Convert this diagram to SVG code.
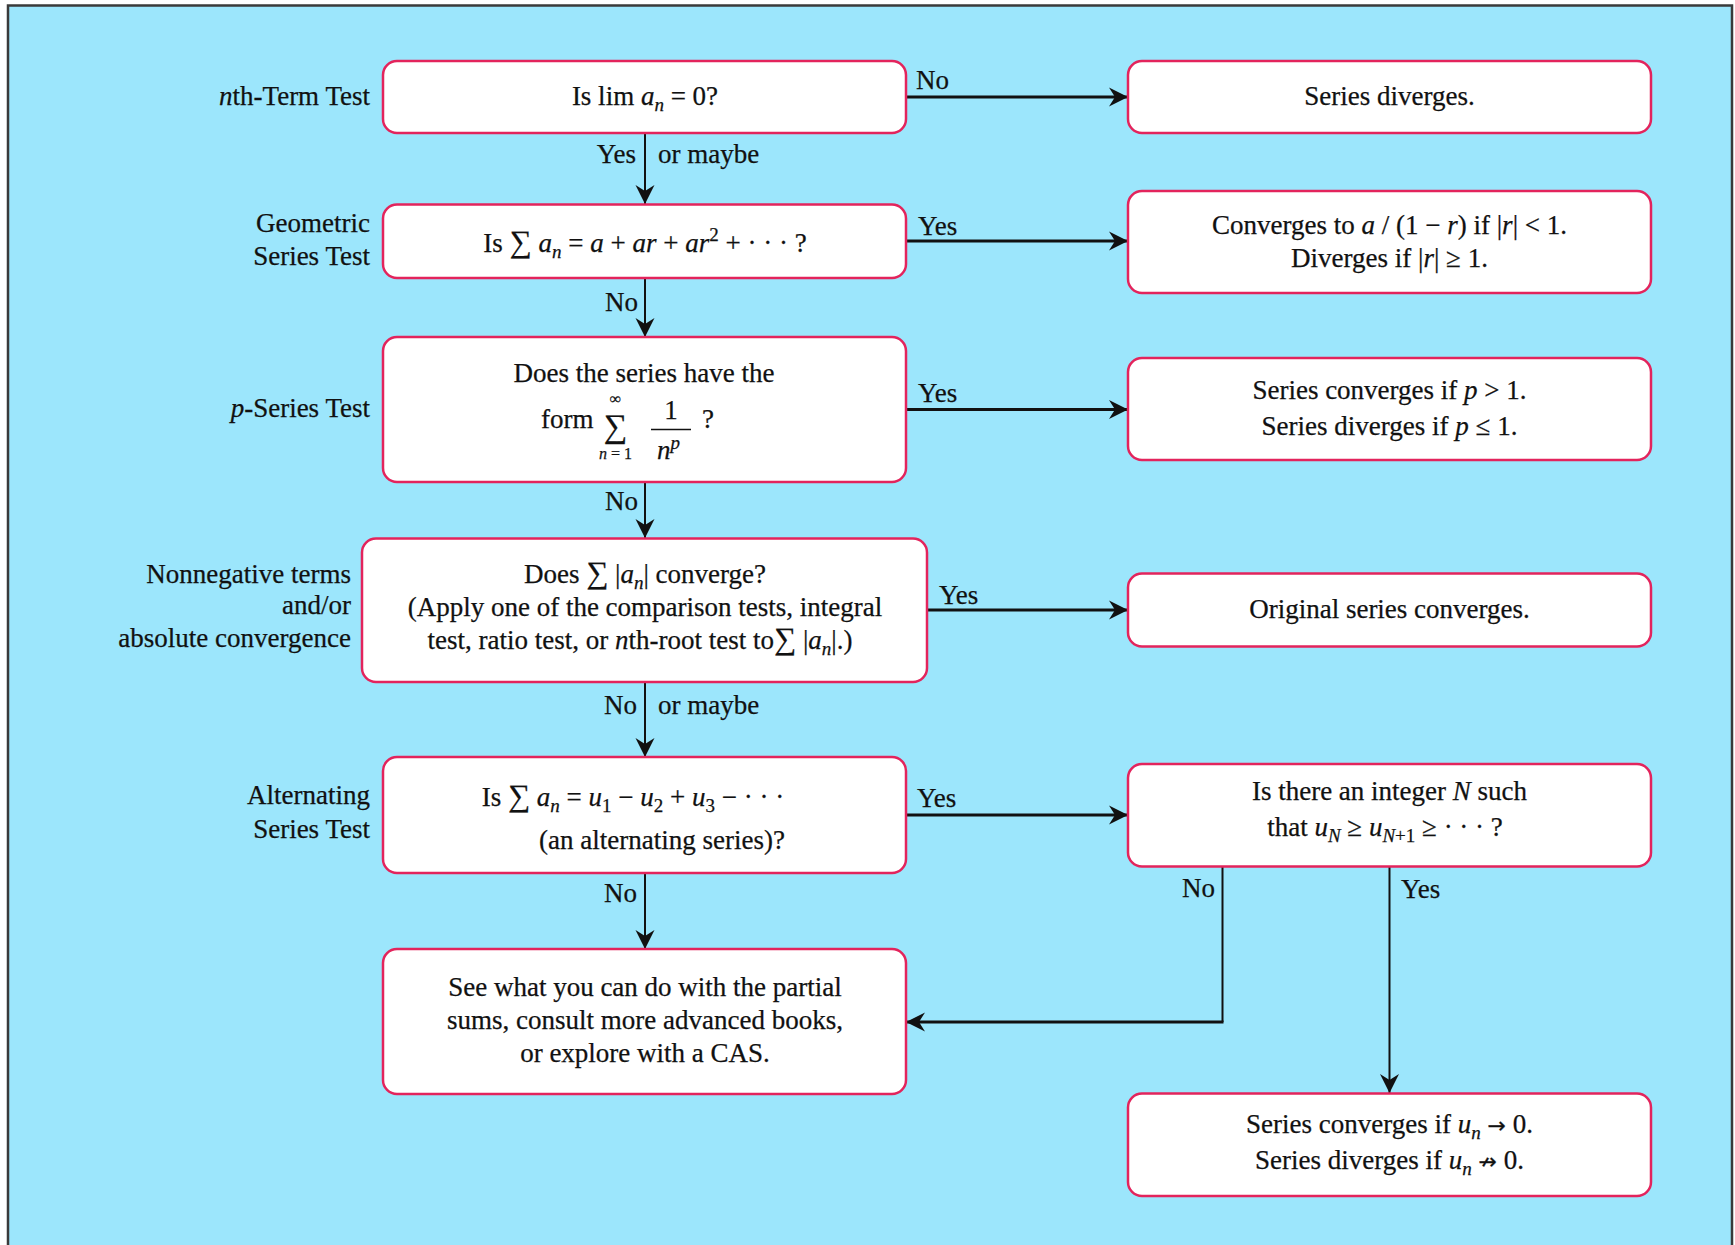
<svg xmlns="http://www.w3.org/2000/svg" width="1735" height="1245" viewBox="0 0 1735 1245">
<defs>
<marker id="ah" markerUnits="userSpaceOnUse" markerWidth="22" markerHeight="20" viewBox="-20 -10 22 20" refX="0" refY="0" orient="auto">
<path d="M0,0 L-19,-9.5 L-13,0 L-19,9.5 Z" fill="#111"/>
</marker>
<style>
.box{fill:#fff;stroke:#e3245c;stroke-width:2.5}
.t{font-family:"Liberation Serif","Times New Roman",serif;font-size:27px;fill:#111;stroke:#111;stroke-width:0.25}
.c{text-anchor:middle}
.r{text-anchor:end}
.i{font-style:italic}
.s{font-size:19px}
.sg{font-size:31px}
.ar{font-family:"DejaVu Sans",sans-serif;font-size:22px}
.ln{fill:none;stroke:#111;stroke-width:2}
.hl{stroke-width:3}
</style>
</defs>
<rect x="0" y="0" width="1735" height="1245" fill="#fff"/>
<rect id="frame" x="8" y="5.5" width="1724" height="1260" fill="#9ce6fc" stroke="#3a3a3a" stroke-width="2.5"/>

<g id="connectors">
<path class="ln" d="M645,133 V204" marker-end="url(#ah)"/>
<path class="ln" d="M645,278 V337" marker-end="url(#ah)"/>
<path class="ln" d="M645,482 V538" marker-end="url(#ah)"/>
<path class="ln" d="M645,682 V757" marker-end="url(#ah)"/>
<path class="ln" d="M645,873 V949" marker-end="url(#ah)"/>
<path class="ln hl" d="M906,97 H1128" marker-end="url(#ah)"/>
<path class="ln hl" d="M906,241 H1128" marker-end="url(#ah)"/>
<path class="ln hl" d="M906,409.5 H1128" marker-end="url(#ah)"/>
<path class="ln hl" d="M927,610 H1128" marker-end="url(#ah)"/>
<path class="ln hl" d="M906,815 H1128" marker-end="url(#ah)"/>
<path class="ln" d="M1222.5,867 V1022"/>
<path class="ln hl" d="M1223.5,1022 H906" marker-end="url(#ah)"/>
<path class="ln" d="M1389.5,867 V1093" marker-end="url(#ah)"/>
<g class="t">
<text x="916" y="89">No</text>
<text class="r" x="636" y="163">Yes</text>
<text x="658" y="163">or maybe</text>
<text x="918" y="235">Yes</text>
<text class="r" x="638" y="311">No</text>
<text x="918" y="402">Yes</text>
<text class="r" x="638" y="510">No</text>
<text x="939" y="604">Yes</text>
<text class="r" x="637" y="714">No</text>
<text x="658" y="714">or maybe</text>
<text x="917" y="807">Yes</text>
<text class="r" x="637" y="902">No</text>
<text class="r" x="1215" y="897">No</text>
<text x="1401" y="898">Yes</text>
</g>
</g>

<g id="labels" class="t">
<text class="r" x="370" y="105"><tspan class="i">n</tspan>th-Term Test</text>
<text class="r" x="370" y="232">Geometric</text>
<text class="r" x="370" y="265">Series Test</text>
<text class="r" x="370" y="417"><tspan class="i">p</tspan>-Series Test</text>
<text class="r" x="351" y="583">Nonnegative terms</text>
<text class="r" x="351" y="614">and/or</text>
<text class="r" x="351" y="647">absolute convergence</text>
<text class="r" x="370" y="804">Alternating</text>
<text class="r" x="370" y="838">Series Test</text>
</g>

<g id="n-nth">
<rect class="box" x="383" y="61" width="523" height="72" rx="14"/>
<text class="t c" x="645" y="105">Is lim <tspan class="i">a</tspan><tspan class="i s" dy="6">n</tspan><tspan dy="-6"> = 0?</tspan></text>
</g>
<g id="n-diverges">
<rect class="box" x="1128" y="61" width="523" height="72" rx="14"/>
<text class="t c" x="1389.5" y="105">Series diverges.</text>
</g>

<g id="n-geometric">
<rect class="box" x="383" y="204.5" width="523" height="73.5" rx="14"/>
<text class="t c" x="645" y="252">Is <tspan class="sg">∑</tspan> <tspan class="i">a</tspan><tspan class="i s" dy="6">n</tspan><tspan dy="-6"> = </tspan><tspan class="i">a</tspan>  +  <tspan class="i">ar</tspan>  +  <tspan class="i">ar</tspan><tspan class="s" dy="-11">2</tspan><tspan dy="11">  +  ·  ·  ·  ?</tspan></text>
</g>
<g id="n-geo-result">
<rect class="box" x="1128" y="191" width="523" height="102" rx="14"/>
<text class="t c" x="1389.5" y="234">Converges to <tspan class="i">a</tspan> / (1 − <tspan class="i">r</tspan>) if |<tspan class="i">r</tspan>| &lt; 1.</text>
<text class="t c" x="1389.5" y="267">Diverges if |<tspan class="i">r</tspan>| ≥ 1.</text>
</g>

<g id="n-pseries">
<rect class="box" x="383" y="337" width="523" height="145" rx="14"/>
<text class="t c" x="644" y="382">Does the series have the</text>
<text class="t"><tspan x="541" y="428">form</tspan><tspan class="c" x="615.5" y="404" style="font-size:16px">∞</tspan><tspan class="c" x="615.5" y="437" style="font-size:33px">∑</tspan><tspan class="c" x="615.5" y="459" style="font-size:16px"><tspan class="i">n</tspan> = 1</tspan><tspan class="c" x="671" y="419">1</tspan><tspan x="657" y="459" class="i">n</tspan><tspan class="i s" dy="-10">p</tspan><tspan x="702" y="428">?</tspan></text>
<line x1="651" y1="429.5" x2="691" y2="429.5" stroke="#111" stroke-width="1.5"/>
</g>
<g id="n-p-result">
<rect class="box" x="1128" y="358" width="523" height="102" rx="14"/>
<text class="t c" x="1389.5" y="399">Series converges if <tspan class="i">p</tspan> &gt; 1.</text>
<text class="t c" x="1389.5" y="435">Series diverges if <tspan class="i">p</tspan> ≤ 1.</text>
</g>

<g id="n-absolute">
<rect class="box" x="362" y="538.5" width="565" height="143.5" rx="14"/>
<text class="t c" x="645" y="583">Does <tspan class="sg">∑</tspan> |<tspan class="i">a</tspan><tspan class="i s" dy="6">n</tspan><tspan dy="-6">| converge?</tspan></text>
<text class="t c" x="645" y="616">(Apply one of the comparison tests, integral</text>
<text class="t c" x="640" y="649">test, ratio test, or <tspan class="i">n</tspan>th-root  test to<tspan class="sg">∑</tspan> |<tspan class="i">a</tspan><tspan class="i s" dy="6">n</tspan><tspan dy="-6">|.)</tspan></text>
</g>
<g id="n-abs-result">
<rect class="box" x="1128" y="573.5" width="523" height="73" rx="14"/>
<text class="t c" x="1389.5" y="618">Original series converges.</text>
</g>

<g id="n-alternating">
<rect class="box" x="383" y="757" width="523" height="116" rx="14"/>
<text class="t c" x="633" y="806">Is <tspan class="sg">∑</tspan> <tspan class="i">a</tspan><tspan class="i s" dy="6">n</tspan><tspan dy="-6"> = </tspan><tspan class="i">u</tspan><tspan class="s" dy="6">1</tspan><tspan dy="-6">  −  </tspan><tspan class="i">u</tspan><tspan class="s" dy="6">2</tspan><tspan dy="-6">  +  </tspan><tspan class="i">u</tspan><tspan class="s" dy="6">3</tspan><tspan dy="-6">  −  ·  ·  ·</tspan></text>
<text class="t c" x="662" y="849">(an alternating series)?</text>
</g>
<g id="n-monotone">
<rect class="box" x="1128" y="764" width="523" height="102.5" rx="14"/>
<text class="t c" x="1389.5" y="800">Is there an integer <tspan class="i">N</tspan> such</text>
<text class="t c" x="1385" y="836">that <tspan class="i">u</tspan><tspan class="i s" dy="6">N</tspan><tspan dy="-6"> ≥ </tspan><tspan class="i">u</tspan><tspan class="s" dy="6"><tspan class="i">N</tspan>+1</tspan><tspan dy="-6"> ≥ ·  ·  · ?</tspan></text>
</g>

<g id="n-other">
<rect class="box" x="383" y="949" width="523" height="145" rx="14"/>
<text class="t c" x="645" y="996">See what you can do with the partial</text>
<text class="t c" x="645" y="1028.5">sums, consult more advanced books,</text>
<text class="t c" x="645" y="1061.5">or explore with a CAS.</text>
</g>
<g id="n-alt-result">
<rect class="box" x="1128" y="1093.5" width="523" height="102.5" rx="14"/>
<text class="t c" x="1389.5" y="1133">Series converges if <tspan class="i">u</tspan><tspan class="i s" dy="6">n</tspan><tspan dy="-6"> </tspan><tspan class="ar">→</tspan> 0.</text>
<text class="t c" x="1389.5" y="1169">Series diverges if <tspan class="i">u</tspan><tspan class="i s" dy="6">n</tspan><tspan dy="-6"> </tspan><tspan class="ar">↛</tspan> 0.</text>
</g>
</svg>
